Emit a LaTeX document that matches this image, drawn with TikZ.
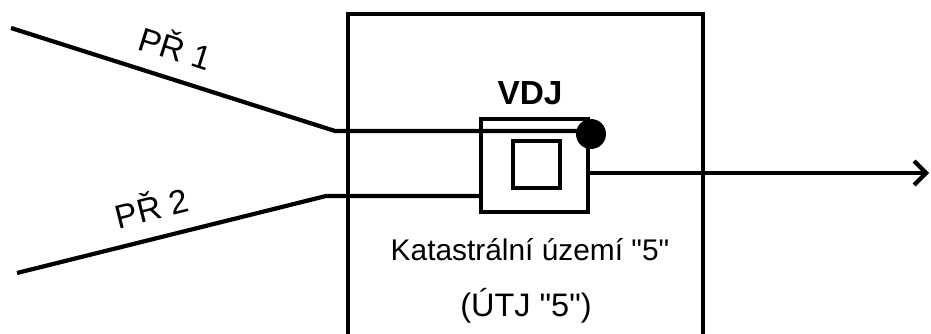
\documentclass[tikz,border=0pt]{standalone}
\usepackage{fontspec}
\newfontfamily\lsans{Liberation Sans}
\usetikzlibrary{arrows.meta,positioning}
\begin{document}
\begin{tikzpicture}[x=0.02cm,y=-0.02cm,
  wall/.style={line width=2.5pt},
  pipe/.style={line width=2.4pt},
  tank/.style={draw,line width=2.4pt,minimum width=2.14cm,minimum height=1.86cm,inner sep=0pt},
  core/.style={draw,line width=2.4pt,minimum size=0.94cm,inner sep=0pt},
  junc/.style={circle,fill,minimum size=0.6cm,inner sep=0pt},
  lab/.style={font=\lsans\fontsize{19}{22}\selectfont},
  txt/.style={font=\lsans\fontsize{17}{20}\selectfont,anchor=base}]
  \useasboundingbox (0,0) rectangle (931,334);
  \draw[wall] (348,334) -- (348,14) -- (703,14) -- (703,334);
  \node[tank] (V) at (534.5,165.5) {};
  \node[core] (Vi) at (536.5,164.5) {};
  \node[junc] (J) at (591,134) {};
  \node[font=\lsans\bfseries\fontsize{19}{22}\selectfont,anchor=base] (Vl) at (530,105) {VDJ};
  \node[txt] (K) at (530,261) {Katastrální území "5"};
  \node[txt,font=\lsans\fontsize{18.5}{22}\selectfont] (U) at (526,317) {(ÚTJ "5")};
  \coordinate (A1) at (11,28);
  \coordinate (B1) at (335,131);
  \coordinate (A2) at (17,273);
  \coordinate (B2) at (326,196);
  \coordinate (Out) at (929,173);
  \draw[pipe] (A1) -- node[lab,sloped,above=0.2cm,pos=0.48]{PŘ 1} (B1) -- (B1 -| J.center);
  \draw[pipe] (A2) -- node[lab,sloped,above=0.2cm,pos=0.46]{PŘ 2} (B2) -- (B2 -| V.west);
  \draw[pipe,-{Straight Barb[length=0.24cm,width=0.48cm]}] (V.east |- Out) -- (Out);
\end{tikzpicture}
\end{document}
